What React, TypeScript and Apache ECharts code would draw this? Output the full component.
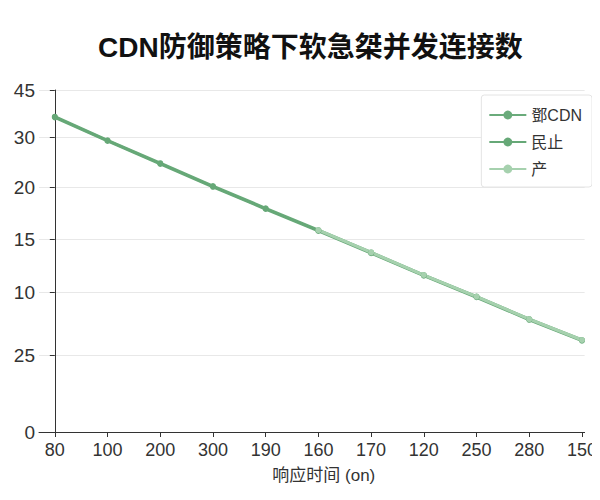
import { useRef, useEffect } from 'react'
import * as echarts from 'echarts'

// x categories (placed on a value axis at their index)
const xLabels = ['80', '100', '200', '300', '190', '160', '170', '120', '250', '280', '150']

// y ticks: positions on the 0..100 scale and the labels printed there
const yTickValues = [0, 22.5, 40.8, 56.3, 71.5, 86.2, 100]
const yTickLabels = ['0', '25', '10', '15', '20', '30', '45']

const seriesNames = ['鄧CDN', '民止', '产']
const seriesA = [92.2, 85.3, 78.6, 71.9, 65.4, 59.0, 52.5, 45.9, 39.6, 33.0, 26.9]
const seriesB = [92.0, 85.1, 78.4, 71.7, 65.2, 58.8, 52.3, 45.7, 39.4, 32.8, 26.7]
const seriesC = [null, null, null, null, null, 59.0, 52.5, 45.9, 39.6, 33.0, 26.9]

const COLORS = ['#6aab7b', '#66a877', '#a6d1ae']
const FONT = '"Liberation Sans", "Noto Sans CJK SC", sans-serif'

export default function App() {
  const chartRef = useRef<HTMLDivElement>(null)

  useEffect(() => {
    if (!chartRef.current) return
    const chart = echarts.init(chartRef.current, undefined, { renderer: 'svg' })

    const toPairs = (arr: (number | null)[]) => arr.map((v, i) => [i, v])

    const option: echarts.EChartsOption = {
      animation: false,
      textStyle: { fontFamily: FONT },
      title: {
        text: 'CDN防御策略下软急桀并发连接数',
        left: 93,
        top: 28,
        textStyle: { fontSize: 28, fontWeight: 'bold', color: '#111', fontFamily: FONT },
      },
      legend: {
        orient: 'vertical',
        right: 8,
        top: 95,
        padding: [12, 10, 10, 7],
        itemGap: 11,
        itemWidth: 37,
        itemHeight: 11,
        borderColor: '#e4e4e4',
        borderWidth: 1,
        borderRadius: 3,
        backgroundColor: '#fff',
        textStyle: { fontSize: 16, color: '#333', fontFamily: FONT },
        data: seriesNames,
      },
      grid: { left: 39, right: 4, top: 90, bottom: 68 },
      xAxis: {
        type: 'value',
        min: -0.3,
        max: 10.05,
        name: '响应时间 (on)',
        nameLocation: 'middle',
        nameGap: 35,
        nameTextStyle: { fontSize: 17, color: '#333', fontFamily: FONT, padding: [0, 0, 0, 24] },
        axisLine: { show: true, onZero: false, lineStyle: { color: '#333', width: 1 } },
        axisTick: { show: true, length: 5, customValues: xLabels.map((_, i) => i), lineStyle: { color: '#333' } },
        axisLabel: {
          customValues: xLabels.map((_, i) => i),
          formatter: (v: number) => xLabels[Math.round(v)] ?? '',
          fontSize: 18,
          color: '#333',
          margin: 9,
          fontFamily: FONT,
        },
        splitLine: { show: false },
      },
      yAxis: {
        type: 'value',
        min: 0,
        max: 100,
        axisLine: { show: true, lineStyle: { color: '#333', width: 1 } },
        axisTick: { show: true, length: 5, customValues: yTickValues, lineStyle: { color: '#333' } },
        axisLabel: {
          customValues: yTickValues,
          formatter: (v: number) => {
            const idx = yTickValues.findIndex((t) => Math.abs(t - v) < 0.01)
            return idx >= 0 ? yTickLabels[idx] : ''
          },
          fontSize: 19,
          color: '#333',
          margin: 4,
          fontFamily: FONT,
        },
        splitLine: { show: true, lineStyle: { color: '#e8e8e8', width: 1 } },
      },
      series: [seriesA, seriesB, seriesC].map((arr, k) => ({
        name: seriesNames[k],
        type: 'line',
        data: toPairs(arr),
        symbol: 'circle',
        symbolSize: 6,
        connectNulls: false,
        lineStyle: { color: COLORS[k], width: 3 },
        itemStyle: { color: COLORS[k] },
      })) as echarts.SeriesOption[],
    }

    chart.setOption(option)
    return () => {
      chart.dispose()
    }
  }, [])

  return <div ref={chartRef} style={{ width: 600, height: 500, margin: -8 }} />
}
